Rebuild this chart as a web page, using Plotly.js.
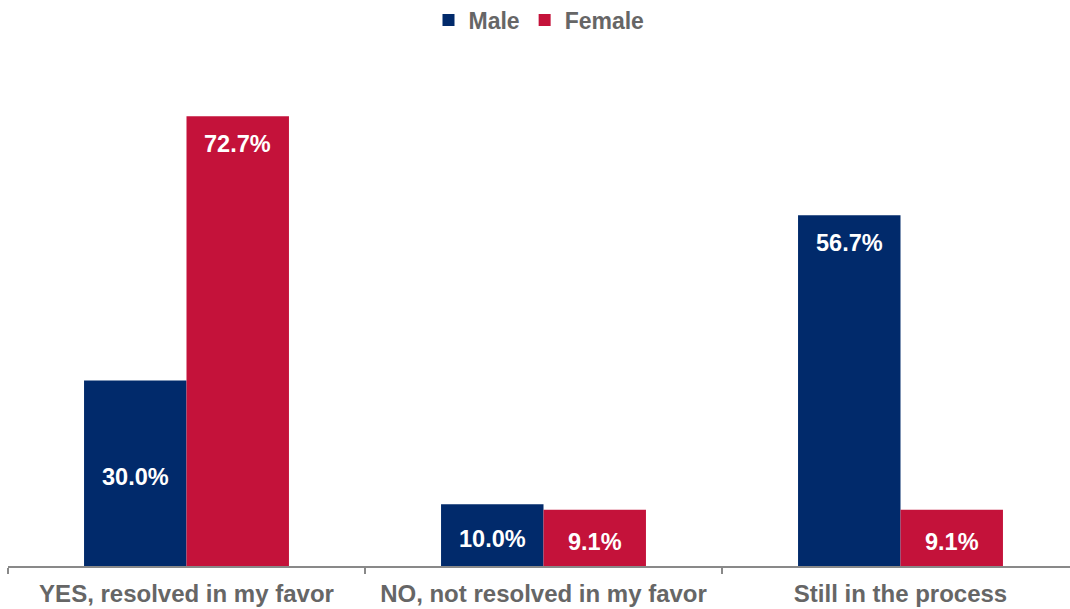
<!DOCTYPE html>
<html>
<head>
<meta charset="utf-8">
<script src="https://cdn.plot.ly/plotly-3.0.1.min.js"></script>
<style>html,body{margin:0;padding:0;background:#fff;}#chart{width:1070px;height:609px;}</style>
</head>
<body>
<div id="chart"></div>
<script>
const categories = ["YES, resolved in my favor", "NO, not resolved in my favor", "Still in the process"];
const seriesNames = ["Male", "Female"];
const maleValues = [30.0, 10.0, 56.7];
const femaleValues = [72.7, 9.1, 9.1];
const maleLabelMode = ["mid", "mid", "end"];
const femaleLabelMode = ["end", "mid", "mid"];

const colors = {Male: "#012a6b", Female: "#c4123a"};
const font = "Liberation Sans, Arial, sans-serif";

const traces = [
  {type: "bar", name: seriesNames[0], x: categories, y: maleValues, marker: {color: colors.Male}, hoverinfo: "skip"},
  {type: "bar", name: seriesNames[1], x: categories, y: femaleValues, marker: {color: colors.Female}, hoverinfo: "skip"}
];

const annotations = [];
function addLabels(values, modes, xshift) {
  values.forEach((v, i) => {
    const mid = modes[i] === "mid";
    annotations.push({
      x: categories[i], y: mid ? v / 2 : v, xref: "x", yref: "y",
      xshift: xshift, yshift: mid ? -4 : -28,
      text: v.toFixed(1) + "%", showarrow: false,
      xanchor: "center", yanchor: "middle",
      font: {family: font, size: 23.5, color: "#ffffff", weight: "bold"}
    });
  });
}
addLabels(maleValues, maleLabelMode, -51);
addLabels(femaleValues, femaleLabelMode, 51);

const layout = {
  width: 1070, height: 609,
  margin: {l: 8, r: 0, t: 40, b: 43},
  paper_bgcolor: "#ffffff", plot_bgcolor: "#ffffff",
  barmode: "group", bargap: 0.426, bargroupgap: 0,
  showlegend: true,
  legend: {orientation: "h", x: 0.5, xref: "paper", xanchor: "center",
           y: 0.967, yref: "container", yanchor: "middle",
           font: {family: font, size: 23, color: "#666666", weight: "bold"}, itemwidth: 30, traceorder: "normal"},
  xaxis: {
    type: "category", range: [-0.5, 2.4748], fixedrange: true, automargin: false,
    showline: true, linecolor: "#898989", linewidth: 2,
    ticks: "outside", tickson: "boundaries", ticklen: 6, tickcolor: "#898989", tickwidth: 2,
    ticklabelstandoff: 5,
    tickfont: {family: font, size: 24, color: "#666666", weight: "bold"},
    showgrid: false, zeroline: false
  },
  yaxis: {range: [0, 84.78], visible: false, showgrid: false, zeroline: false, fixedrange: true, automargin: false},
  annotations: annotations
};

Plotly.newPlot("chart", traces, layout, {displayModeBar: false, staticPlot: true});
</script>
</body>
</html>
